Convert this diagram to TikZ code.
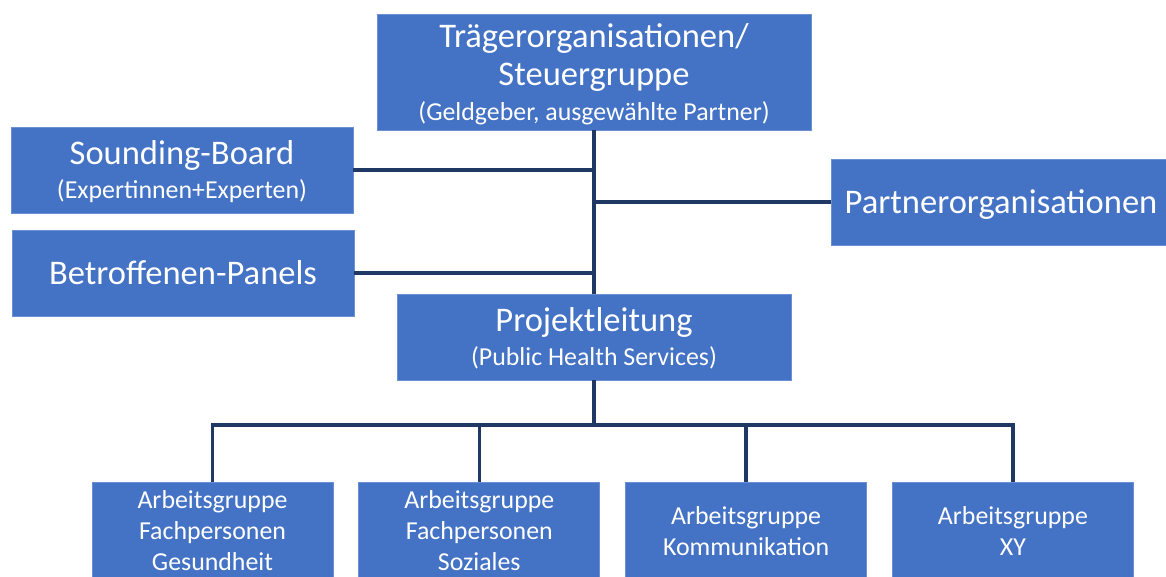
\documentclass[tikz,border=0pt]{standalone}
\usepackage{fontspec}
\setmainfont{Carlito}
\usetikzlibrary{positioning}
\definecolor{boxblue}{HTML}{4472C4}
\definecolor{boxedge}{HTML}{6A8FD2}
\definecolor{linenavy}{HTML}{1F3864}
\newcommand{\smalltxt}{\fontsize{19.4}{23.3}\selectfont}

\begin{document}
\begin{tikzpicture}
  [
   x=0.75pt,y=-0.75pt,
   box/.style={rectangle,fill=boxblue,draw=boxedge,line width=0.6pt,text=white,align=center,inner sep=0pt},
   bn/.style={box,text depth=0pt,minimum width=256.5pt,minimum height=64.5pt,font=\fontsize{25.9}{28.5}\selectfont},
   wn/.style={box,minimum width=180.75pt,minimum height=73.5pt,font=\smalltxt},
   ln/.style={draw=linenavy,line width=2.6pt}
  ]
   \useasboundingbox (0,0) rectangle (1166,577);
   \clip (0,0) rectangle (1166,577);

   \node[bn,minimum width=325.5pt,minimum height=87pt] (top) at (594,72)
     {Trägerorganisationen/\\Steuergruppe\\[-2pt]{\smalltxt (Geldgeber, ausgewählte Partner)}};
   \node[bn] (sb) at (182,170) {Sounding-Board\\[-3pt]{\smalltxt (Expertinnen+Experten)}};
   \node[bn] (bp) at (183,273) {Betroffenen-Panels};
   \node[bn,minimum width=255pt] (po) at (1001,202) {Partnerorganisationen};
   \node[bn,minimum width=295.5pt] (pl) at (594,337) {Projektleitung\\[-3pt]{\smalltxt (Public Health Services)}};

   \node[wn] (ag1) at (212.5,531) {Arbeitsgruppe\\Fachpersonen\\Gesundheit};
   \node[wn] (ag2) [right=18.75pt of ag1] {Arbeitsgruppe\\Fachpersonen\\Soziales};
   \node[wn] (ag3) [right=18.75pt of ag2] {Arbeitsgruppe\\Kommunikation};
   \node[wn] (ag4) [right=18.75pt of ag3] {Arbeitsgruppe\\XY};

   \coordinate (bus) at (594,425);

   \draw[ln] (top.south) -- (pl.north);
   \draw[ln] (sb.east) -- (sb.east -| top.south);
   \draw[ln] (bp.east) -- (bp.east -| top.south);
   \draw[ln] (po.west) -- (po.west -| top.south);
   \draw[ln] (pl.south) -- (bus);
   \draw[ln] (ag1.north) |- (bus) -| (ag4.north);
   \draw[ln] (ag2.north) -- (ag2.north |- bus);
   \draw[ln] (ag3.north) -- (ag3.north |- bus);

\end{tikzpicture}
\end{document}
